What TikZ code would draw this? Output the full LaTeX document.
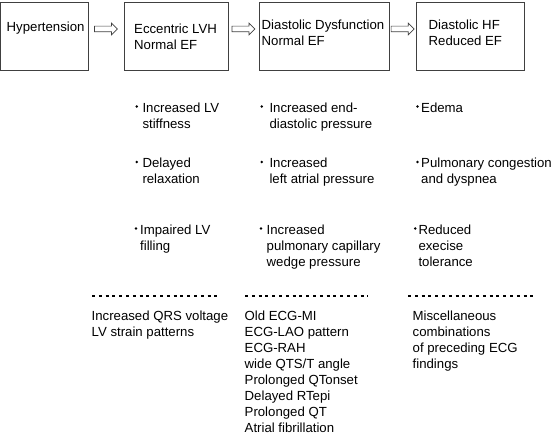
\documentclass[tikz,border=0pt]{standalone}
\usepackage{fontspec}
\setmainfont{Liberation Sans}
\usetikzlibrary{shapes.arrows}
\usetikzlibrary{math}

\newcommand{\rows}[1]{\begin{tabular}[t]{@{}l@{}}#1\end{tabular}}

\begin{document}
\begin{tikzpicture}[x=1pt, y=-1pt,
  box/.style = {draw=black!75, line width = 0.8pt, minimum height = 68pt, inner sep = 0pt},
  txt/.style = {anchor=base west, inner sep = 0pt, font=\fontsize{13.2}{16}\selectfont},
  harrow/.style = {single arrow, draw=black!75, line width = 0.7pt, minimum height = 23pt,
    minimum width = 11pt, single arrow head extend = 3pt, inner sep = 2.5pt},
  sep/.style = {line width = 1.2pt, dash pattern = on 3pt off 3.8pt}]
\tikzmath{
\yc=36;
\ya=112.5;
\yb=168;
\yy=234.5;
\yd=296;
\ye=320;
}
\useasboundingbox (0,0) rectangle (553,435);

\node[box, minimum width = 88pt] (hyp) at (44.5,\yc) {};
\node[box, minimum width = 104pt] (lvh) at (176,\yc) {};
\node[box, minimum width = 130pt] (dd) at (324,\yc) {};
\node[box, minimum width = 108pt] (hf) at (470,\yc) {};

\node[txt] (hyptxt) at (6.5,31.5) {Hypertension};
\node[txt] (lvhtxt) at (134,33.5) {\rows{Eccentric LVH\\Normal EF}};
\node[txt] (ddtxt) at (261.5,29.5) {\rows{Diastolic Dysfunction\\Normal EF}};
\node[txt] (hftxt) at (428.5,29.5) {\rows{Diastolic HF\\Reduced EF}};

\foreach \a/\b in {hyp/lvh, lvh/dd, dd/hf}
  \path ([yshift=7pt]\a.east) -- ([yshift=7pt]\b.west) node[harrow, pos=0.45] (arr-\a) {};

\node[txt] (lva) at (142.3,\ya) {\rows{Increased LV\\stiffness}};
\node[txt] (lvb) at (142.3,\yb) {\rows{Delayed\\relaxation}};
\node[txt] (lvc) at (140,\yy) {\rows{Impaired LV\\filling}};

\node[txt] (dda) at (269.3,\ya) {\rows{Increased end-\\diastolic pressure}};
\node[txt] (ddb) at (269.3,\yb) {\rows{Increased\\left atrial pressure}};
\node[txt] (ddc) at (266.5,\yy) {\rows{Increased\\pulmonary capillary\\wedge pressure}};

\node[txt] (hfa) at (421,\ya) {Edema};
\node[txt] (hfb) at (421,\yb) {\rows{Pulmonary congestion\\and dyspnea}};
\node[txt] (hfc) at (418.3,\yy) {\rows{Reduced\\execise\\tolerance}};

\foreach \n/\d in {lva/5.5, lvb/5.5, lvc/4, dda/7.5, ddb/7.5, ddc/5.5, hfa/3.5, hfb/3.5, hfc/3}
  \fill ([shift={(-\d,-6)}]\n.base west) circle (1.4pt);

\draw[sep] (92,\yd) -- (221,\yd);
\draw[sep] (245,\yd) -- (368,\yd);
\draw[sep] (408,\yd) -- (535,\yd);

\node[txt] (ecga) at (91.5,\ye) {\rows{Increased QRS voltage\\LV strain patterns}};
\node[txt] (ecgb) at (244.5,\ye) {\rows{Old ECG-MI\\ECG-LAO pattern\\ECG-RAH\\wide QTS/T angle\\Prolonged QTonset\\Delayed RTepi\\Prolonged QT\\Atrial fibrillation}};
\node[txt] (ecgc) at (412.5,\ye) {\rows{Miscellaneous\\combinations\\of preceding ECG\\findings}};
\end{tikzpicture}
\end{document}
